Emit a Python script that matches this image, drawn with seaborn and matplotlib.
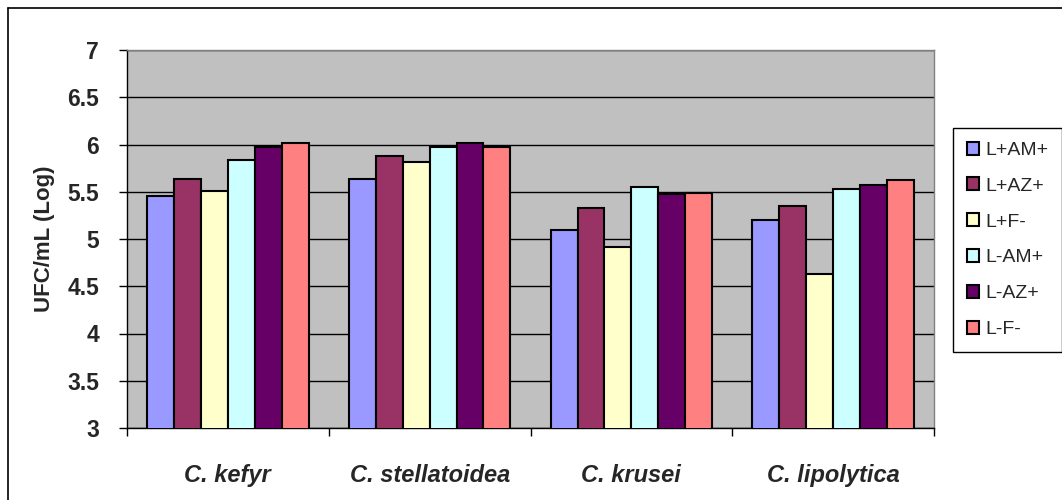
import matplotlib
matplotlib.use("Agg")
import matplotlib.pyplot as plt
from matplotlib.lines import Line2D
import numpy as np
import pandas as pd
import seaborn as sns

species = ["C. kefyr", "C. stellatoidea", "C. krusei", "C. lipolytica"]
treatments = ["L+AM+", "L+AZ+", "L+F-", "L-AM+", "L-AZ+", "L-F-"]
colors = ["#9999FF", "#993366", "#FFFFCC", "#CCFFFF", "#660066", "#FF8080"]
ytick_labels = ["3", "3.5", "4", "4.5", "5", "5.5", "6", "6.5", "7"]

# log UFC/mL per treatment, in species order
l_am_pos = [5.45, 5.64, 5.09, 5.20]
l_az_pos = [5.64, 5.88, 5.33, 5.35]
l_f_neg = [5.51, 5.81, 4.92, 4.63]
nl_am_pos = [5.84, 5.97, 5.55, 5.53]
nl_az_pos = [5.97, 6.02, 5.48, 5.57]
nl_f_neg = [6.02, 5.97, 5.49, 5.62]

series = [l_am_pos, l_az_pos, l_f_neg, nl_am_pos, nl_az_pos, nl_f_neg]
rows = []
for t, vals in zip(treatments, series):
    for s, v in zip(species, vals):
        rows.append({"species": s, "treatment": t, "ufc": v})
df = pd.DataFrame(rows)

sns.set_style("white")
plt.rcParams["font.family"] = ["Liberation Sans", "DejaVu Sans"]

fig = plt.figure(figsize=(10.62, 5.0), dpi=100)
ax = fig.add_axes([127 / 1062, 1 - 428 / 500, (934 - 127) / 1062, (428 - 50) / 500])
ax.set_facecolor("#C0C0C0")

sns.barplot(data=df, x="species", y="ufc", hue="treatment", order=species,
            hue_order=treatments, palette=colors, edgecolor="black",
            linewidth=1.5, width=0.8, saturation=1, ax=ax, zorder=3)

ax.set_ylim(3, 7)
ax.set_xlim(-0.5, 3.5)
ax.yaxis.grid(True, color="black", linewidth=1.0, zorder=0)
ax.set_axisbelow(True)

ax.tick_params(axis="x", which="major", length=0, pad=26)
ax.tick_params(axis="x", which="minor", length=6, width=1, direction="out", color="black")
ax.tick_params(axis="y", length=6, width=1, direction="out", color="black", pad=14)
ax.yaxis.set_ticks_position("left")
ax.xaxis.set_ticks_position("bottom")

ax.set_yticks(np.arange(3, 7.01, 0.5))
ax.set_yticklabels(ytick_labels, fontweight="bold", fontsize=16.5)
ax.set_xticks(range(len(species)))
ax.set_xticklabels(species, fontstyle="italic", fontweight="bold", fontsize=17)
ax.set_xticks(np.arange(-0.5, 3.6, 1.0), minor=True)

ax.set_xlabel("")
ax.set_ylabel("UFC/mL (Log)", fontsize=16, fontweight="bold")
ax.yaxis.set_label_coords(-0.089, 0.5)

for side in ["left", "bottom"]:
    ax.spines[side].set_color("black")
    ax.spines[side].set_linewidth(1.0)
for side in ["top", "right"]:
    ax.spines[side].set_color("#808080")
    ax.spines[side].set_linewidth(1.0)

leg = ax.legend(loc="upper left", bbox_to_anchor=(953 / 1062, 1 - 128 / 500),
                bbox_transform=fig.transFigure, fontsize=14, frameon=True,
                fancybox=False, edgecolor="black", framealpha=1,
                handlelength=0.65, handleheight=0.65, handletextpad=0.3,
                labelspacing=0.95, borderpad=0.7, borderaxespad=0)
leg.get_frame().set_linewidth(1.0)

# outer chart border (only left and top edges are inside the picture)
x0 = 8 / 1062
y1 = 1 - 8 / 500
fig.add_artist(Line2D([x0, x0], [0, y1], color="black", linewidth=1.2))
fig.add_artist(Line2D([x0, 1], [y1, y1], color="black", linewidth=1.2))

fig.savefig("out.png", dpi=100, facecolor="white")
